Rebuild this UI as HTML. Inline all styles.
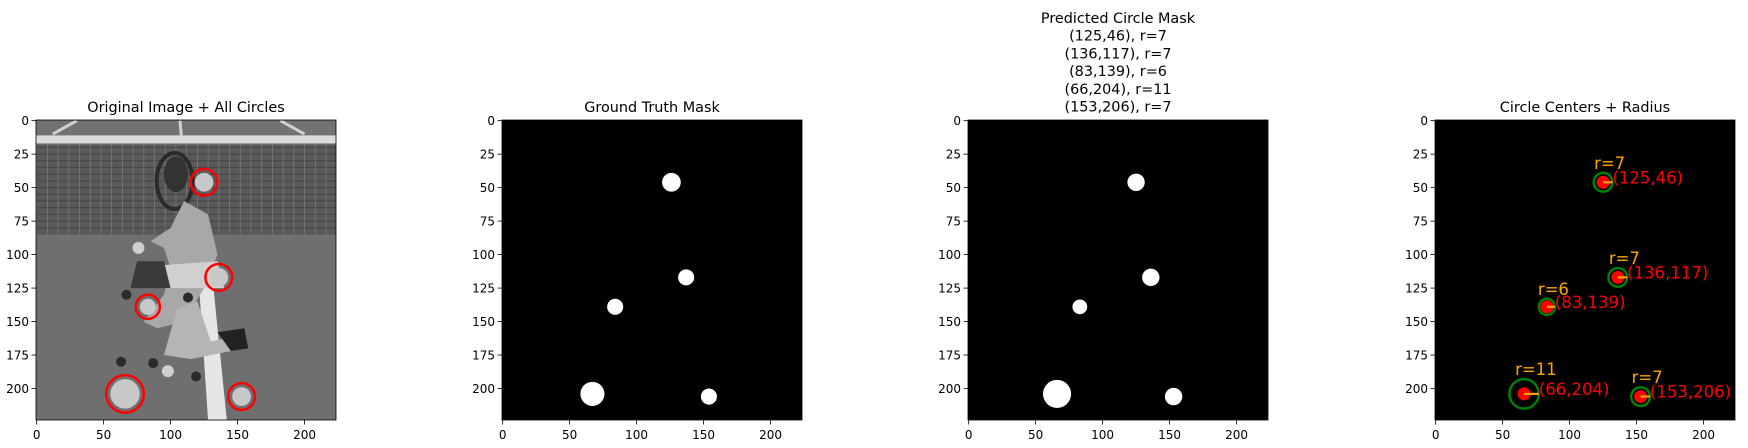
<!DOCTYPE html>
<html><head><meta charset="utf-8">
<style>
html,body{margin:0;padding:0;background:#fff;}
svg{display:block;font-family:"DejaVu Sans","Liberation Sans",sans-serif;}
</style></head>
<body>
<svg id="fig" width="1748" height="448" viewBox="0 0 1748 448" xmlns="http://www.w3.org/2000/svg"></svg>
<script>
const cx = [125, 136, 83, 66, 153];
const cy = [46, 117, 139, 204, 206];
const radii = [7, 7, 6, 11, 7];
const tickVals = [0, 25, 50, 75, 100, 125, 150, 175, 200];
const xTickVals = [0, 50, 100, 150, 200];
const titles = ["Original Image + All Circles", "Ground Truth Mask", "", "Circle Centers + Radius"];
const gtRadii = [7, 6, 6, 9, 6];

const NS = "http://www.w3.org/2000/svg";
const svg = document.getElementById('fig');
const S = 300 / 224;
const TOP = 120;
const lefts = [36, 502, 968, 1435];
function mk(tag, attrs, parent) {
  const e = document.createElementNS(NS, tag);
  for (const k in attrs) e.setAttribute(k, attrs[k]);
  (parent || svg).appendChild(e);
  return e;
}
function px(L, v) { return L + (v + 0.5) * S; }
function py(v) { return TOP + (v + 0.5) * S; }

lefts.forEach((L, i) => {
  const g = mk('g', {});
  
  
  if (i === 0) {
    const img = mk('g', {}, g);
    
    
    mk('rect', {x: L, y: TOP, width: 300, height: 300, fill: '#6f6f6f'}, img);
    mk('rect', {x: L, y: TOP, width: 300, height: 16, fill: '#727272'}, img);
    mk('line', {x1: px(L, 12), y1: py(10), x2: px(L, 30), y2: py(0), stroke: '#d0d0d0', 'stroke-width': 3}, img);
    mk('line', {x1: px(L, 200), y1: py(10), x2: px(L, 182), y2: py(0), stroke: '#d0d0d0', 'stroke-width': 3}, img);
    mk('line', {x1: px(L, 107), y1: py(0), x2: px(L, 108), y2: py(11), stroke: '#d0d0d0', 'stroke-width': 3}, img);
    mk('rect', {x: L, y: py(11), width: 300, height: 8, fill: '#dcdcdc'}, img);
    mk('rect', {x: L, y: py(18), width: 300, height: 90, fill: '#5a5a5a'}, img);
    for (let r = 20; r < 85; r += 5) mk('line', {x1: L, y1: py(r), x2: L + 300, y2: py(r), stroke: '#444', 'stroke-width': 1.2}, img);
    for (let c = 0; c < 224; c += 8) mk('line', {x1: px(L, c), y1: py(18), x2: px(L, c), y2: py(85), stroke: '#7a7a7a', 'stroke-width': 0.8}, img);
    mk('polygon', {points: [[120,105],[130,105],[142,224],[128,224]].map(p => px(L,p[0]) + ',' + py(p[1])).join(' '), fill: '#e6e6e6'}, img);
    mk('ellipse', {cx: px(L, 103), cy: py(45), rx: 18, ry: 28, fill: 'none', stroke: '#2a2a2a', 'stroke-width': 4}, img);
    mk('ellipse', {cx: px(L, 104), cy: py(40), rx: 12, ry: 18, fill: '#333'}, img);
    mk('polygon', {points: [[110,60],[128,70],[135,100],[125,125],[110,150],[90,155],[80,150],[95,130],[100,110],[95,95],[85,90],[100,80]].map(p => px(L,p[0]) + ',' + py(p[1])).join(' '), fill: '#a8a8a8'}, img);
    mk('polygon', {points: [[105,140],[120,135],[130,165],[150,160],[155,170],[115,178],[95,175]].map(p => px(L,p[0]) + ',' + py(p[1])).join(' '), fill: '#b5b5b5'}, img);
    mk('polygon', {points: [[92,108],[135,105],[140,125],[95,125]].map(p => px(L,p[0]) + ',' + py(p[1])).join(' '), fill: '#d0d0d0'}, img);
    mk('polygon', {points: [[75,105],[95,105],[100,125],[70,125]].map(p => px(L,p[0]) + ',' + py(p[1])).join(' '), fill: '#3a3a3a'}, img);
    mk('polygon', {points: [[135,158],[155,155],[158,170],[145,172]].map(p => px(L,p[0]) + ',' + py(p[1])).join(' '), fill: '#222'}, img);
    [[63,180],[87,181],[119,191],[113,132],[67,130]].forEach(p => mk('circle', {cx: px(L,p[0]), cy: py(p[1]), r: 5, fill: '#2a2a2a'}, img));
    [[98,187],[76,95]].forEach(p => mk('circle', {cx: px(L,p[0]), cy: py(p[1]), r: 6, fill: '#cfcfcf'}, img));
    cx.forEach((x, k) => {
      mk('circle', {cx: px(L, x), cy: py(cy[k]), r: radii[k] * S, fill: '#c8c8c8'}, img);
      const c = mk('circle', {cx: px(L, x), cy: py(cy[k]), r: (radii[k] + 3) * S, fill: 'none', stroke: '#ff0000', 'stroke-width': 2.5}, img);
      
      
    });
  } else {
    const bg = mk('rect', {x: L, y: TOP, width: 300, height: 300, fill: '#000'}, g);
    
    
    if (i === 1 || i === 2) {
      cx.forEach((x, k) => {
        const b = mk('circle', {cx: px(L, x + (i === 1 ? 1 : 0)), cy: py(cy[k]), r: (i === 1 ? gtRadii[k] : radii[k] - 0.5) * S, fill: '#fff'}, g);
        
        
      });
    } else {
      cx.forEach((x, k) => {
        const X = px(L, x), Y = py(cy[k]), R = radii[k] * S;
        const gc = mk('circle', {cx: X, cy: Y, r: R, fill: 'none', stroke: '#008000', 'stroke-width': 2.5}, g);
        
        
        const d = mk('circle', {cx: X, cy: Y, r: 6.5, fill: '#ff0000'}, g);
        
        
        mk('line', {x1: X, y1: Y, x2: X + R, y2: Y, stroke: '#ffa500', 'stroke-width': 2.2}, g);
        const rl = mk('text', {x: X - 9, y: Y - R - 4, fill: '#ffa500', 'font-size': 16.5}, g);
        rl.textContent = 'r=' + radii[k];
        
        
        const cl = mk('text', {x: X + R, y: Y + 1, fill: '#ff0000', 'font-size': 16.5}, g);
        cl.textContent = '(' + x + ',' + cy[k] + ')';
        
        
      });
    }
  }
  mk('rect', {x: L, y: TOP, width: 300, height: 300, fill: 'none', stroke: '#000', 'stroke-width': 0.8}, g);
  tickVals.forEach(v => {
    const y = py(v);
    mk('line', {x1: L - 4.5, y1: y, x2: L, y2: y, stroke: '#000', 'stroke-width': 0.8}, g);
    const t = mk('text', {x: L - 7, y: y + 4.3, 'text-anchor': 'end', 'font-size': 12, fill: '#000'}, g);
    t.textContent = v;
    
    
  });
  xTickVals.forEach(v => {
    const x = px(L, v);
    mk('line', {x1: x, y1: TOP + 300, x2: x, y2: TOP + 304.5, stroke: '#000', 'stroke-width': 0.8}, g);
    const t = mk('text', {x: x, y: TOP + 319, 'text-anchor': 'middle', 'font-size': 12, fill: '#000'}, g);
    t.textContent = v;
    
    
  });
  if (i === 2) {
    const lines = ['Predicted Circle Mask'].concat(cx.map((x, k) => '(' + x + ',' + cy[k] + '), r=' + radii[k]));
    lines.forEach((ln, j) => {
      const t = mk('text', {x: L + 150, y: 23 + j * 17.7, 'text-anchor': 'middle', 'font-size': 14.4, fill: '#000'}, g);
      t.textContent = ln;
      
      
    });
  } else {
    const t = mk('text', {x: L + 150, y: 112, 'text-anchor': 'middle', 'font-size': 14.4, fill: '#000'}, g);
    t.textContent = titles[i];
    
    
  }
});
</script>
</body></html>
